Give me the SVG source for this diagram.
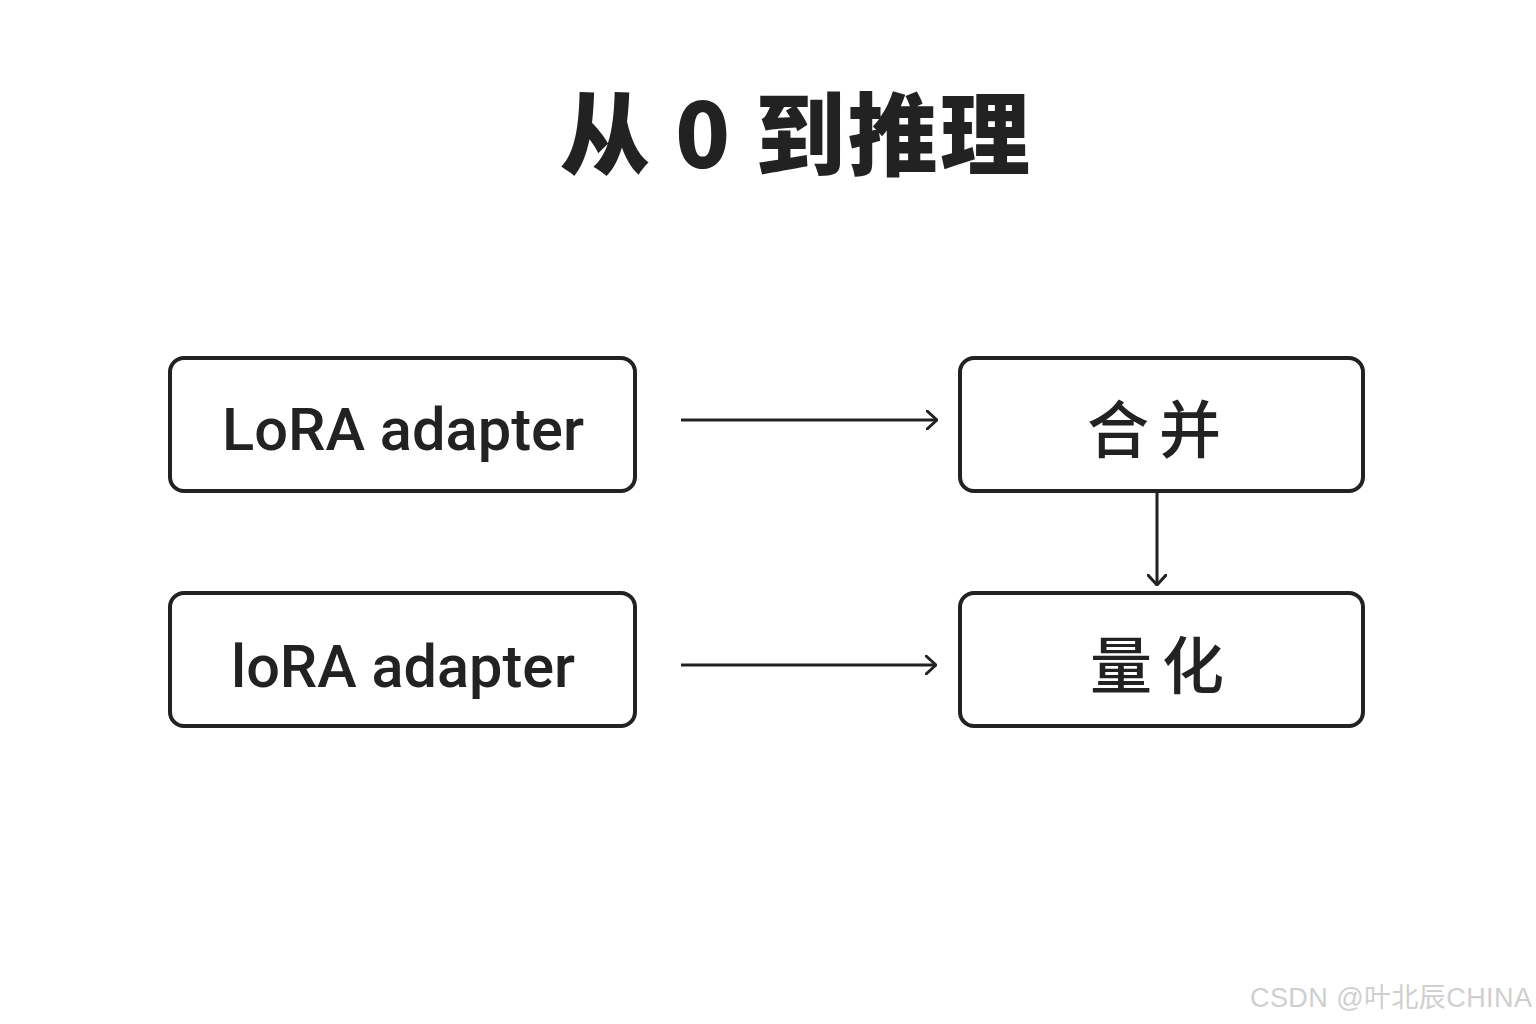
<svg xmlns="http://www.w3.org/2000/svg" width="1536" height="1024" viewBox="0 0 1536 1024">
<defs>
<style>
.box{fill:#fff;stroke:#222;stroke-width:4}
.lbl{font-family:Roboto,"Noto Sans","Liberation Sans",sans-serif;font-size:60px;fill:#222;text-anchor:middle;font-weight:500}
.cjk{font-family:"Noto Sans CJK SC",sans-serif;font-size:62px;fill:#222;text-anchor:middle;font-weight:500}
.conn{stroke:#222;stroke-width:3;fill:none;marker-end:url(#ah)}
</style>
<marker id="ah" viewBox="0 0 12 20" refX="11" refY="10" markerWidth="12" markerHeight="20" markerUnits="userSpaceOnUse" orient="auto">
<path d="M1,1 L11,10 L1,19" fill="none" stroke="#222" stroke-width="3" stroke-linecap="round" stroke-linejoin="round"/>
</marker>
</defs>
<rect width="1536" height="1024" fill="#fff"/>
<text id="title" x="795" y="168" font-family="'Noto Sans CJK SC',sans-serif" font-weight="900" font-size="90" fill="#222" text-anchor="middle" textLength="470" lengthAdjust="spacing">从 0 到推理</text>
<g id="n1"><rect class="box" x="170" y="358" width="465" height="133" rx="14"/><text class="lbl" x="403" y="450" textLength="362" lengthAdjust="spacingAndGlyphs">LoRA adapter</text></g>
<g id="n2"><rect class="box" x="170" y="593" width="465" height="133" rx="14"/><text class="lbl" x="403" y="687" textLength="344" lengthAdjust="spacingAndGlyphs">loRA adapter</text></g>
<g id="n3"><rect class="box" x="960" y="358" width="403" height="133" rx="14"/><text class="cjk" x="1159" y="453" letter-spacing="10">合并</text></g>
<g id="n4"><rect class="box" x="960" y="593" width="403" height="133" rx="14"/><text class="cjk" x="1162" y="689" letter-spacing="10">量化</text></g>
<g id="connectors">
<path class="conn" d="M681,420 L937,420"/>
<path class="conn" d="M681,665 L936,665"/>
<path class="conn" d="M1157,491 L1157,585"/>
</g>
<text x="1532" y="1007" font-family="'Liberation Sans','Noto Sans CJK SC',sans-serif" font-size="27" fill="#cfcfcf" text-anchor="end" textLength="282" lengthAdjust="spacing">CSDN @叶北辰CHINA</text>
</svg>
